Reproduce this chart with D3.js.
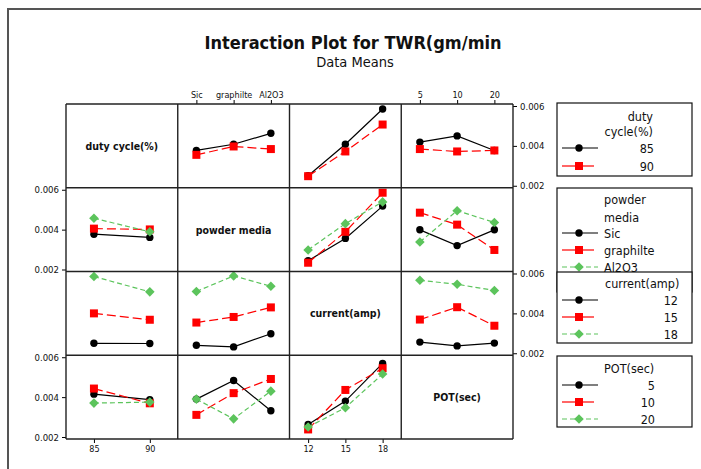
<!DOCTYPE html>
<html>
<head>
<meta charset="utf-8">
<script src="https://cdn.jsdelivr.net/npm/d3@7/dist/d3.min.js"></script>
<style>
  body { margin: 0; background: #fff; }
  svg text { font-family: "DejaVu Sans Condensed", "DejaVu Sans", sans-serif; fill: #111; }
</style>
</head>
<body>
<div id="chart"></div>
<script>
// factor names and levels
const factorNames = ["duty cycle(%)", "powder media", "current(amp)", "POT(sec)"];
const dutyLevels = ["85", "90"];
const powderLevels = ["Sic", "graphilte", "Al2O3"];
const currentLevels = ["12", "15", "18"];
const potLevels = ["5", "10", "20"];
const yTicks = [0.002, 0.004, 0.006];

// means of TWR: rows = levels of the line factor, cols = levels of the x factor
const dutyByPowder   = [[0.00377, 0.00408, 0.00463], [0.00355, 0.00397, 0.00384]];
const dutyByCurrent  = [[0.00250, 0.00408, 0.00585], [0.00248, 0.00372, 0.00507]];
const dutyByPot      = [[0.00419, 0.00450, 0.00377], [0.00384, 0.00372, 0.00377]];

const powderByDuty    = [[0.00377, 0.00361], [0.00405, 0.00401], [0.00457, 0.00389]];
const powderByCurrent = [[0.00244, 0.00356, 0.00518], [0.00234, 0.00389, 0.00585], [0.00298, 0.00430, 0.00539]];
const powderByPot     = [[0.00399, 0.00320, 0.00399], [0.00485, 0.00425, 0.00298], [0.00338, 0.00495, 0.00436]];

const currentByDuty   = [[0.00250, 0.00249], [0.00400, 0.00368], [0.00585, 0.00508]];
const currentByPowder = [[0.00240, 0.00232, 0.00298], [0.00354, 0.00382, 0.00430], [0.00510, 0.00588, 0.00536]];
const currentByPot    = [[0.00256, 0.00237, 0.00251], [0.00369, 0.00431, 0.00338], [0.00566, 0.00546, 0.00515]];

const potByDuty       = [[0.00415, 0.00387], [0.00443, 0.00369], [0.00370, 0.00375]];
const potByPowder     = [[0.00390, 0.00483, 0.00332], [0.00311, 0.00420, 0.00491], [0.00390, 0.00291, 0.00430]];
const potByCurrent    = [[0.00263, 0.00380, 0.00569], [0.00238, 0.00436, 0.00545], [0.00250, 0.00347, 0.00516]];

const levels = [dutyLevels, powderLevels, currentLevels, potLevels];
// panel lookup [row factor][col factor]
const means = [
  [null, dutyByPowder, dutyByCurrent, dutyByPot],
  [powderByDuty, null, powderByCurrent, powderByPot],
  [currentByDuty, currentByPowder, null, currentByPot],
  [potByDuty, potByPowder, potByCurrent, null]
];

const styles = [
  { color: "#000", dash: null, legendDash: null, symbol: "circle" },
  { color: "#ff0000", dash: "9,4", legendDash: null, symbol: "square" },
  { color: "#5cc45c", dash: "5,3", legendDash: "5,3", symbol: "diamond" }
];

const width = 701, height = 469;
const gridLeft = 66, gridRight = 513, gridTop = 104, gridBottom = 439;

const svg = d3.select("#chart").append("svg")
  .attr("width", width).attr("height", height);

// outer frame (top and left)
svg.append("path")
  .attr("d", `M8,${height} L8,9 L${width},9`)
  .attr("fill", "none").attr("stroke", "#555").attr("stroke-width", 2);

svg.append("text").attr("x", 353).attr("y", 49)
  .attr("text-anchor", "middle").style("font-size", "18px").style("font-weight", "bold")
  .text("Interaction Plot for TWR(gm/min");
svg.append("text").attr("x", 355).attr("y", 67)
  .attr("text-anchor", "middle").style("font-size", "14.5px")
  .text("Data Means");

const colPos = d3.scaleLinear().domain([0, 4]).range([gridLeft, gridRight]);
const rowPos = d3.scaleLinear().domain([0, 4]).range([gridTop, gridBottom]);

function drawSymbol(g, type, x, y, color) {
  if (type === "circle") {
    g.append("circle").attr("cx", x).attr("cy", y).attr("r", 3.7).attr("fill", color);
  } else if (type === "square") {
    g.append("rect").attr("x", x - 4).attr("y", y - 4).attr("width", 8).attr("height", 8).attr("fill", color);
  } else {
    g.append("path").attr("d", d3.symbol(d3.symbolSquare, 46)())
      .attr("transform", `translate(${x},${y}) rotate(45)`).attr("fill", color);
  }
}

for (let r = 0; r < 4; r++) {
  for (let c = 0; c < 4; c++) {
    const x0 = colPos(c), x1 = colPos(c + 1), y0 = rowPos(r), y1 = rowPos(r + 1);
    const g = svg.append("g");
    const x = d3.scalePoint().domain(levels[c]).range([x0, x1]).padding(0.5);
    const y = d3.scaleLinear().domain([0.0019, 0.0061]).range([y1, y0]);

    if (r === c) {
      g.append("text").attr("x", (x0 + x1) / 2).attr("y", (y0 + y1) / 2 + 4)
        .attr("text-anchor", "middle").style("font-size", "10.5px").style("font-weight", "bold")
        .text(factorNames[r]);
    } else {
      const m = means[r][c];
      m.forEach((vals, i) => {
        const st = styles[i];
        const pts = vals.map((v, j) => [x(levels[c][j]), y(v)]);
        g.append("path").attr("d", d3.line()(pts))
          .attr("fill", "none").attr("stroke", st.color).attr("stroke-width", 1.2)
          .attr("stroke-dasharray", st.dash);
        pts.forEach(p => drawSymbol(g, st.symbol, p[0], p[1], st.color));
      });
    }

    // axes on the outer edges, alternating
    if (r === 0 && (c === 1 || c === 3)) {
      const ax = svg.append("g").attr("transform", `translate(0,${gridTop})`)
        .call(d3.axisTop(x).tickSize(4).tickSizeOuter(0).tickPadding(2));
      ax.select(".domain").remove();
      ax.selectAll("text").style("font-size", "9px");
    }
    if (r === 3 && (c === 0 || c === 2)) {
      const ax = svg.append("g").attr("transform", `translate(0,${gridBottom})`)
        .call(d3.axisBottom(x).tickSize(4).tickSizeOuter(0).tickPadding(3));
      ax.select(".domain").remove();
      ax.selectAll("text").style("font-size", "9px");
    }
    if (c === 0 && (r === 1 || r === 3)) {
      const ax = svg.append("g").attr("transform", `translate(${gridLeft},0)`)
        .call(d3.axisLeft(y).tickValues(yTicks).tickFormat(d3.format(".3f")).tickSize(4).tickPadding(3));
      ax.select(".domain").remove();
      ax.selectAll("text").style("font-size", "9.5px");
    }
    if (c === 3 && (r === 0 || r === 2)) {
      const ax = svg.append("g").attr("transform", `translate(${gridRight},0)`)
        .call(d3.axisRight(y).tickValues(yTicks).tickFormat(d3.format(".3f")).tickSize(4).tickPadding(3));
      ax.select(".domain").remove();
      ax.selectAll("text").style("font-size", "9.5px");
    }
  }
}

// grid lines
const gridG = svg.append("g").attr("stroke", "#222").attr("stroke-width", 1.4);
d3.range(5).forEach(i => {
  gridG.append("line").attr("x1", colPos(i)).attr("x2", colPos(i)).attr("y1", gridTop).attr("y2", gridBottom);
  gridG.append("line").attr("y1", rowPos(i)).attr("y2", rowPos(i)).attr("x1", gridLeft).attr("x2", gridRight);
});

// legends
const legendX0 = 557, legendX1 = 692;
const legends = [
  { top: 103, bottom: 176, title: ["duty", "cycle(%)"], titleY: [116, 131], titleAnchor: "end", titleX: 653,
    labels: dutyLevels, rowY: [148, 166], labelAnchor: "end", labelX: 654 },
  { top: 188, bottom: 292, title: ["powder", "media"], titleY: [199, 217], titleAnchor: "start", titleX: 604,
    labels: powderLevels, rowY: [233, 250, 267], labelAnchor: "start", labelX: 604 },
  { top: 272, bottom: 343, title: ["current(amp)"], titleY: [283], titleAnchor: "start", titleX: 605,
    labels: currentLevels, rowY: [300, 317, 334], labelAnchor: "end", labelX: 678 },
  { top: 356, bottom: 427, title: ["POT(sec)"], titleY: [368], titleAnchor: "start", titleX: 604,
    labels: potLevels, rowY: [385, 402, 419], labelAnchor: "end", labelX: 655 }
];

legends.forEach(L => {
  const g = svg.append("g");
  g.append("rect").attr("x", legendX0).attr("y", L.top)
    .attr("width", legendX1 - legendX0).attr("height", L.bottom - L.top)
    .attr("fill", "#fff").attr("stroke", "#111").attr("stroke-width", 1.2);
  L.title.forEach((t, i) => {
    g.append("text").attr("x", L.titleX).attr("y", L.titleY[i] + 4.5)
      .attr("text-anchor", L.titleAnchor).style("font-size", "12.5px").text(t);
  });
  L.labels.forEach((lab, i) => {
    const st = styles[i], yy = L.rowY[i];
    g.append("line").attr("x1", 562).attr("x2", i === 1 ? 594 : 598).attr("y1", yy).attr("y2", yy)
      .attr("stroke", st.color).attr("stroke-width", 1.2).attr("stroke-dasharray", st.legendDash);
    drawSymbol(g, st.symbol, 579, yy, st.color);
    g.append("text").attr("x", L.labelX).attr("y", yy + 4.5)
      .attr("text-anchor", L.labelAnchor).style("font-size", "12.5px").text(lab);
  });
});
</script>
</body>
</html>
